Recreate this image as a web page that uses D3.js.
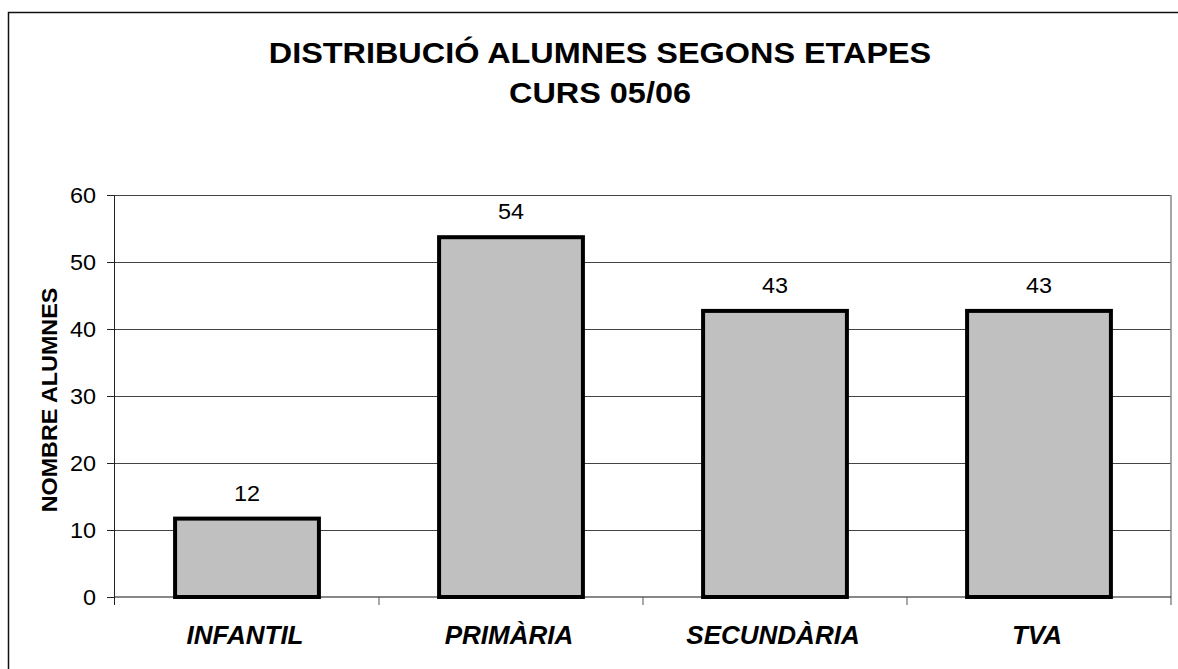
<!DOCTYPE html>
<html><head><meta charset="utf-8">
<script src="https://cdn.jsdelivr.net/npm/d3@7"></script>
<style>body{margin:0;background:#fff}svg{display:block}</style>
</head><body>
<script>
const categories = ["INFANTIL", "PRIMÀRIA", "SECUNDÀRIA", "TVA"];
const values = [12, 54, 43, 43];
const yTicks = [0, 10, 20, 30, 40, 50, 60];
const titleLines = ["DISTRIBUCIÓ ALUMNES SEGONS ETAPES", "CURS 05/06"];
const yTitle = "NOMBRE ALUMNES";

const W = 1178, H = 669;
const m = {left: 115, right: 1171, top: 195, bottom: 597};
const font = "'Liberation Sans', Arial, sans-serif";

function stretch(sel, k) {
  sel.each(function () {
    const w = this.getComputedTextLength();
    d3.select(this).attr("textLength", w * k).attr("lengthAdjust", "spacingAndGlyphs");
  });
}

const svg = d3.select("body").append("svg").attr("width", W).attr("height", H);
svg.append("rect").attr("x", 8.5).attr("y", 12.5).attr("width", W + 10).attr("height", H + 10)
  .attr("fill", "#fff").attr("stroke", "#111").attr("stroke-width", 1.5);

const x = d3.scaleBand().domain(categories).range([m.left, m.right]).paddingInner(0.44).paddingOuter(0.22);
const y = d3.scaleLinear().domain([0, 60]).range([m.bottom, m.top]);

// gridlines
svg.append("g").selectAll("line").data(yTicks.filter(d => d > 0)).join("line")
  .attr("x1", m.left).attr("x2", m.right).attr("y1", d => y(d)).attr("y2", d => y(d))
  .attr("stroke", "#444").attr("stroke-width", 1).attr("shape-rendering", "crispEdges");
// right border
svg.append("line").attr("x1", m.right).attr("x2", m.right).attr("y1", m.top).attr("y2", m.bottom + 8)
  .attr("stroke", "#888").attr("stroke-width", 1.5);

// y axis
const ya = svg.append("g").attr("transform", `translate(${m.left},0)`)
  .call(d3.axisLeft(y).tickValues(yTicks).tickSize(8).tickPadding(11));
ya.select(".domain").attr("stroke", "#222").attr("d", `M-0.5,${m.top}V${m.bottom + 8}`);
ya.selectAll(".tick line").attr("stroke", "#222");
ya.selectAll(".tick text").attr("font-family", font).attr("font-size", 22.5).attr("fill", "#000")
  .attr("dy", "0.34em").call(stretch, 1.04);

// x axis
const xa = svg.append("g").attr("transform", `translate(0,${m.bottom})`);
xa.append("line").attr("x1", m.left).attr("x2", m.right).attr("y1", 0).attr("y2", 0).attr("stroke", "#111");
const step = x.step();
const bounds = categories.slice(1).map(c => x(c) - x.paddingInner() * step / 2);
xa.selectAll(".xt").data(bounds).join("line").attr("class", "xt")
  .attr("x1", d => d).attr("x2", d => d).attr("y1", 0).attr("y2", 8).attr("stroke", "#555");
xa.selectAll("text").data(categories).join("text")
  .attr("x", d => x(d) + x.bandwidth() / 2 - 2).attr("y", 47)
  .attr("text-anchor", "middle").attr("font-family", font).attr("font-size", 25)
  .attr("font-weight", "bold").attr("font-style", "italic").text(d => d).call(stretch, 1.04);

// bars
svg.append("g").selectAll("rect").data(categories).join("rect")
  .attr("x", d => x(d) + 2).attr("width", x.bandwidth() - 4)
  .attr("y", (d, i) => y(values[i]) + 2).attr("height", (d, i) => y(0) - y(values[i]) - 2)
  .attr("fill", "#c0c0c0").attr("stroke", "#000").attr("stroke-width", 4);

// value labels
svg.append("g").selectAll("text").data(categories).join("text")
  .attr("x", d => x(d) + x.bandwidth() / 2).attr("y", (d, i) => y(values[i]) - 16)
  .attr("text-anchor", "middle").attr("font-family", font).attr("font-size", 22.5)
  .text((d, i) => values[i]).call(stretch, 1.04);

// titles
svg.append("g").selectAll("text").data(titleLines).join("text")
  .attr("x", 600).attr("y", (d, i) => 63 + i * 40)
  .attr("text-anchor", "middle").attr("font-family", font).attr("font-size", 30)
  .attr("font-weight", "bold").text(d => d).call(stretch, 1.08);

svg.append("text").attr("transform", `translate(57,400) rotate(-90)`)
  .attr("text-anchor", "middle").attr("font-family", font).attr("font-size", 22)
  .attr("font-weight", "bold").text(yTitle).call(stretch, 1.06);
</script>
</body></html>
